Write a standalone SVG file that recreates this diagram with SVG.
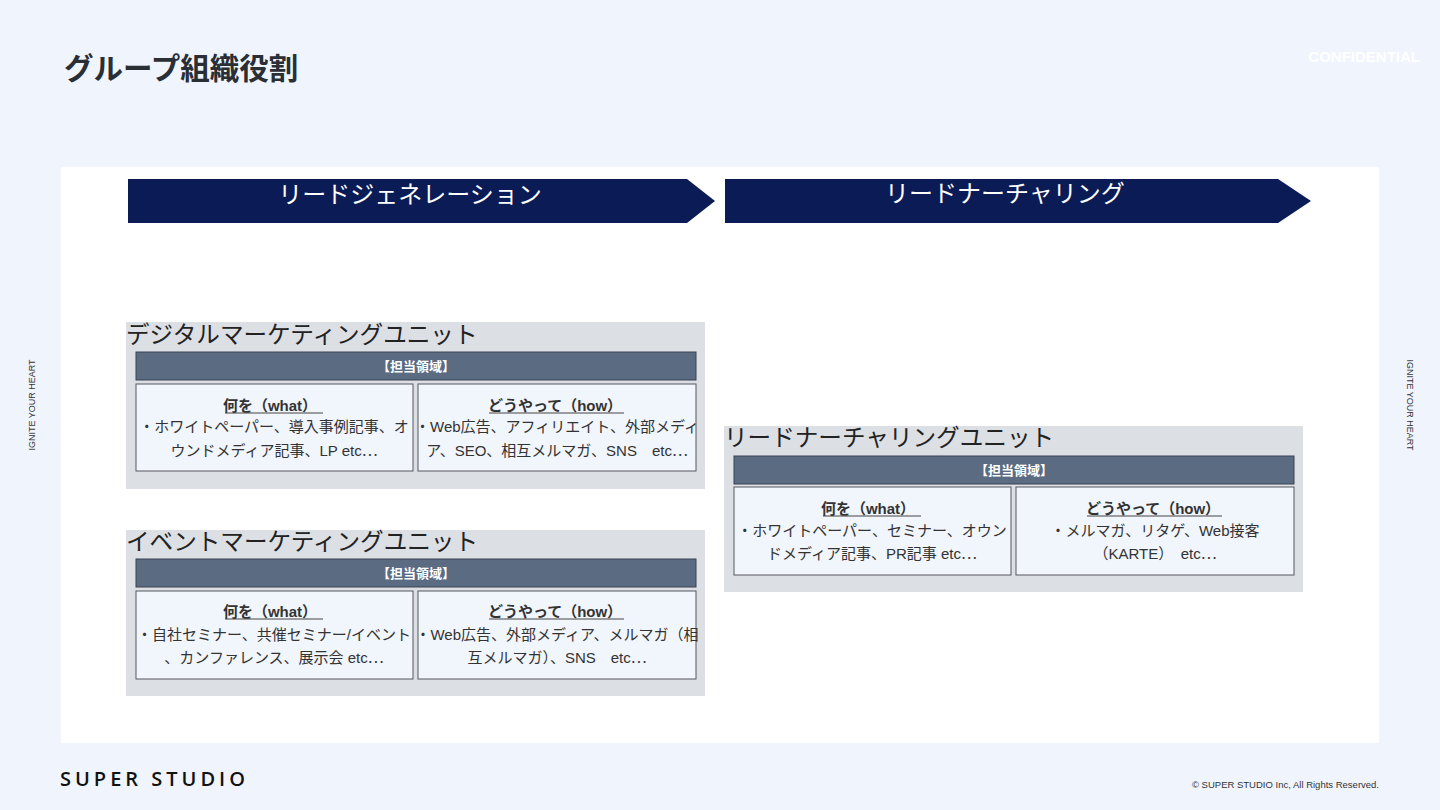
<svg xmlns="http://www.w3.org/2000/svg" width="1440" height="810" viewBox="0 0 1440 810">
<defs>
<style>
.unit{fill:#dcdfe4}
.utitle{font-family:"Noto Sans CJK JP",sans-serif;font-size:23.6px;fill:#222;font-weight:400}
.hdr{fill:#5b6b82;stroke:#3a4350;stroke-width:1}
.hdrt{font-family:"Noto Sans CJK JP",sans-serif;font-size:13px;font-weight:700;fill:#fff;text-anchor:middle}
.cell{fill:#f1f5fc;stroke:#55595f;stroke-width:1}
.h{font-family:"Liberation Sans","Noto Sans CJK JP",sans-serif;font-size:15px;font-weight:700;fill:#333;text-anchor:middle}
.t{font-family:"Liberation Sans","Noto Sans CJK JP",sans-serif;font-size:15px;fill:#333;text-anchor:middle}
.e{font-family:"Noto Sans CJK JP",sans-serif}
.ul{stroke:#444;stroke-width:1}
.arrow{fill:#0a1b55}
.arrowt{font-family:"Noto Sans CJK JP",sans-serif;font-size:24px;fill:#fff;text-anchor:middle}
.side{font-family:"Liberation Sans",sans-serif;font-size:9px;fill:#333;text-anchor:middle}
</style>
</defs>
<rect x="0" y="0" width="1440" height="810" fill="#f0f5fd"/>
<rect x="61" y="167" width="1318" height="576" fill="#ffffff" rx="2"/>
<text x="64" y="79" font-family="Noto Sans CJK JP,sans-serif" font-size="29.5" font-weight="700" fill="#2a2e35">グループ組織役割</text>
<text x="1420" y="62" font-family="Liberation Sans,sans-serif" font-size="15" font-weight="700" fill="#ffffff" text-anchor="end">CONFIDENTIAL</text>
<text class="side" transform="translate(35,405) rotate(-90)">IGNITE YOUR HEART</text>
<text class="side" transform="translate(1407,405) rotate(90)">IGNITE YOUR HEART</text>
<text x="60" y="786" font-family="Open Sans,Liberation Sans,sans-serif" font-size="20" font-weight="600" letter-spacing="4" fill="#111">SUPER STUDIO</text>
<text x="1379" y="788" font-family="Liberation Sans,sans-serif" font-size="9.5" fill="#333" text-anchor="end">© SUPER STUDIO Inc, All Rights Reserved.</text>

<g id="arrow-leadgen">
<polygon class="arrow" points="128,179 687,179 715,201 687,223 128,223"/>
<text class="arrowt" x="410" y="203">リードジェネレーション</text>
</g>
<g id="arrow-nurturing">
<polygon class="arrow" points="725,179 1278,179 1311,201 1278,223 725,223"/>
<text class="arrowt" x="1005" y="202">リードナーチャリング</text>
</g>

<g id="unit-digital">
<rect class="unit" x="126" y="322" width="579" height="167"/>
<text class="utitle" x="126" y="343">デジタルマーケティングユニット</text>
<rect class="hdr" x="136" y="352" width="560" height="28"/>
<text class="hdrt" x="416" y="371">【担当領域】</text>
<rect class="cell" x="136" y="384" width="277" height="87"/>
<text class="h" x="270" y="411">何を（what）</text>
<line class="ul" x1="225" y1="413" x2="323" y2="413"/>
<text class="t" x="274" y="432">・ホワイトペーパー、導入事例記事、オ</text>
<text class="t" x="274" y="456">ウンドメディア記事、LP etc<tspan class="e">…</tspan></text>
<rect class="cell" x="418" y="384" width="278" height="87"/>
<text class="h" x="555" y="411">どうやって（how）</text>
<line class="ul" x1="489" y1="413" x2="624" y2="413"/>
<text class="t" x="557" y="432">・Web広告、アフィリエイト、外部メディ</text>
<text class="t" x="557" y="456">ア、SEO、相互メルマガ、SNS　etc<tspan class="e">…</tspan></text>
</g>

<g id="unit-event">
<rect class="unit" x="126" y="530" width="579" height="166"/>
<text class="utitle" x="126" y="550">イベントマーケティングユニット</text>
<rect class="hdr" x="136" y="559" width="560" height="28"/>
<text class="hdrt" x="416" y="578">【担当領域】</text>
<rect class="cell" x="136" y="591" width="277" height="88"/>
<text class="h" x="270" y="617">何を（what）</text>
<line class="ul" x1="225" y1="619" x2="323" y2="619"/>
<text class="t" x="274" y="640">・自社セミナー、共催セミナー/イベント</text>
<text class="t" x="274" y="663">、カンファレンス、展示会 etc<tspan class="e">…</tspan></text>
<rect class="cell" x="418" y="591" width="278" height="88"/>
<text class="h" x="555" y="617">どうやって（how）</text>
<line class="ul" x1="489" y1="619" x2="624" y2="619"/>
<text class="t" x="557" y="640">・Web広告、外部メディア、メルマガ（相</text>
<text class="t" x="557" y="663">互メルマガ）、SNS　etc<tspan class="e">…</tspan></text>
</g>

<g id="unit-nurturing">
<rect class="unit" x="724" y="426" width="579" height="166"/>
<text class="utitle" x="724" y="446">リードナーチャリングユニット</text>
<rect class="hdr" x="734" y="456" width="560" height="28"/>
<text class="hdrt" x="1014" y="475">【担当領域】</text>
<rect class="cell" x="734" y="487" width="277" height="88"/>
<text class="h" x="868" y="514">何を（what）</text>
<line class="ul" x1="823" y1="516" x2="921" y2="516"/>
<text class="t" x="872" y="536">・ホワイトペーパー、セミナー、オウン</text>
<text class="t" x="872" y="559">ドメディア記事、PR記事 etc<tspan class="e">…</tspan></text>
<rect class="cell" x="1016" y="487" width="278" height="88"/>
<text class="h" x="1153" y="514">どうやって（how）</text>
<line class="ul" x1="1087" y1="516" x2="1222" y2="516"/>
<text class="t" x="1155" y="536">・メルマガ、リタゲ、Web接客</text>
<text class="t" x="1155" y="559">（KARTE）　etc<tspan class="e">…</tspan></text>
</g>
<g id="connectors"/>
</svg>
